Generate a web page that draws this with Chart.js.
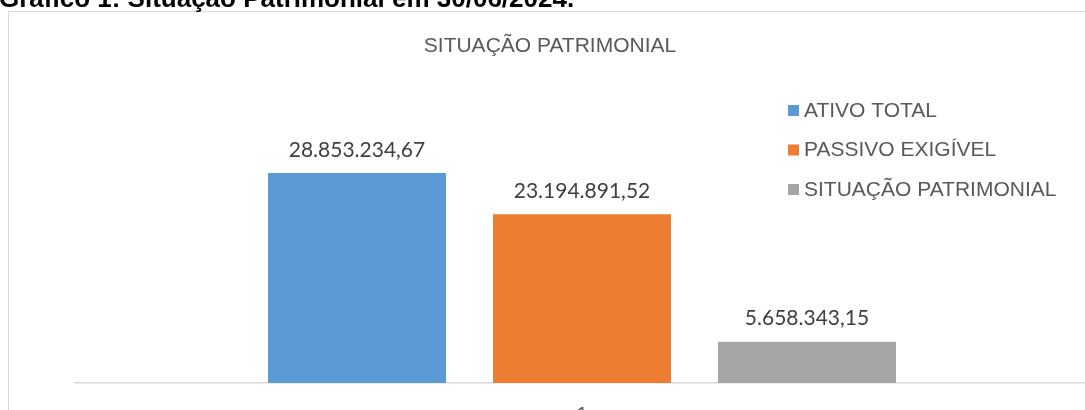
<!DOCTYPE html>
<html><head><meta charset="utf-8">
<script src="https://cdn.jsdelivr.net/npm/chart.js@4.4.1/dist/chart.umd.min.js"></script>
<style>
html,body{margin:0;padding:0;overflow:hidden;background:#fff;width:1085px;height:410px}
#wrap{position:absolute;left:0;top:0;width:1100px;height:440px}
</style></head>
<body><div id="wrap"><canvas id="c" width="1100" height="440"></canvas></div>
<script>
// ---- data ----
const categories = ['1'];
const seriesNames = ['ATIVO TOTAL', 'PASSIVO EXIGÍVEL', 'SITUAÇÃO PATRIMONIAL'];
const ativoTotal = [28853234.67];
const passivoExigivel = [23194891.52];
const situacaoPatrimonial = [5658343.15];
const seriesColors = ['#5b9bd5', '#ed7d31', '#a5a5a5'];
const chartTitle = 'SITUAÇÃO PATRIMONIAL';
const figureCaption = 'Gráfico 1: Situação Patrimonial em 30/06/2024.';

function fmtBR(v) {
  const parts = v.toFixed(2).split('.');
  parts[0] = parts[0].replace(/\B(?=(\d{3})+(?!\d))/g, '.');
  return parts[0] + ',' + parts[1];
}

const decor = {
  id: 'decor',
  beforeDraw(chart) {
    const ctx = chart.ctx;
    ctx.save();
    ctx.fillStyle = '#fff';
    ctx.fillRect(0, 0, chart.width, chart.height);
    ctx.strokeStyle = '#d9d9d9';
    ctx.lineWidth = 1;
    ctx.strokeRect(8.5, 11.5, 1200, 600);
    // caption
    ctx.fillStyle = '#000';
    ctx.font = 'bold 26px "Liberation Sans", Arial, sans-serif';
    ctx.textAlign = 'left';
    ctx.textBaseline = 'alphabetic';
    ctx.fillText(figureCaption, -1, 7);
    // chart title
    ctx.fillStyle = '#595959';
    ctx.font = '21px "Liberation Sans", Arial, sans-serif';
    ctx.textAlign = 'center';
    ctx.fillText(chartTitle, 550, 52);
    ctx.restore();
  },
  afterDatasetsDraw(chart) {
    const ctx = chart.ctx;
    ctx.save();
    // data labels
    ctx.fillStyle = '#404040';
    ctx.font = '21px Lato, "Open Sans", sans-serif';
    ctx.textAlign = 'center';
    ctx.textBaseline = 'alphabetic';
    chart.data.datasets.forEach((ds, i) => {
      const meta = chart.getDatasetMeta(i);
      meta.data.forEach((el, j) => {
        ctx.fillText(fmtBR(ds.data[j]), el.x, el.y - 16.5);
      });
    });
    // legend
    ctx.font = '21px "Liberation Sans", Arial, sans-serif';
    ctx.textAlign = 'left';
    const baselines = [116.5, 156, 195.5];
    chart.data.datasets.forEach((ds, i) => {
      const b = baselines[i];
      ctx.fillStyle = ds.backgroundColor;
      ctx.fillRect(788, b - 11.5, 11, 11);
      ctx.fillStyle = '#595959';
      ctx.fillText(ds.label, 804, b);
    });
    ctx.restore();
  }
};

const seriesData = [ativoTotal, passivoExigivel, situacaoPatrimonial];

new Chart(document.getElementById('c'), {
  type: 'bar',
  data: {
    labels: categories,
    datasets: seriesNames.map((n, i) => ({
      label: n,
      data: seriesData[i],
      backgroundColor: seriesColors[i],
      borderWidth: 0,
      categoryPercentage: 0.6657,
      barPercentage: 0.791
    }))
  },
  options: {
    responsive: false,
    animation: false,
    devicePixelRatio: 1,
    layout: { padding: { left: 75, right: 11, top: 92, bottom: 0 } },
    plugins: { legend: { display: false }, title: { display: false }, tooltip: { enabled: false } },
    scales: {
      x: {
        grid: { display: false, drawTicks: false },
        border: { display: true, color: '#d9d9d9', width: 1.5 },
        ticks: { color: '#595959', font: { family: '"Liberation Sans", Arial, sans-serif', size: 21 }, padding: 20 },
        afterFit(s) { s.height = 57; }
      },
      y: { display: false, min: 0, max: 40000000 }
    }
  },
  plugins: [decor]
});
</script>
</body></html>
